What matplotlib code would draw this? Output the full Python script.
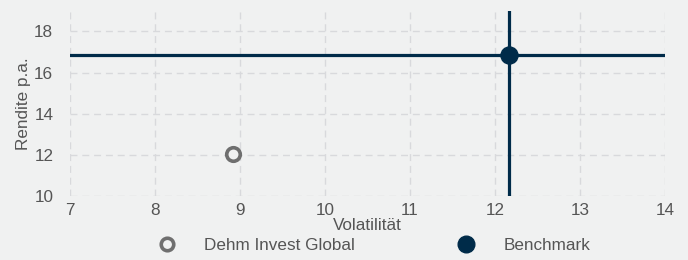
import matplotlib.pyplot as plt
from matplotlib.lines import Line2D

plt.rcParams['font.family'] = ['Liberation Sans', 'DejaVu Sans']

names = ['Dehm Invest Global', 'Benchmark']
vola = [8.92, 12.16]
rendite = [12.05, 16.88]

bg = '#f0f1f1'
navy = '#002b49'
grey = '#6f6f6f'
txt = '#555555'
fs = 12.3

fig = plt.figure(figsize=(6.88, 2.6), dpi=100, facecolor=bg)
ax = fig.add_axes([0.1017, 0.246, 0.8649, 0.712])
ax.set_facecolor(bg)

ax.set_xlim(7, 14)
ax.set_ylim(10, 19)
ax.set_xticks(range(7, 15))
ax.set_yticks(range(10, 19, 2))
ax.grid(True, color='#d8d9dc', linestyle=(0, (5, 3.5)), linewidth=1)
ax.set_axisbelow(True)
for s in ax.spines.values():
    s.set_visible(False)
ax.tick_params(length=0, labelsize=fs, colors=txt, pad=5)
ax.tick_params(axis='y', pad=12)

# benchmark crosshair
ax.axhline(rendite[1], color=navy, linewidth=2.3, zorder=2)
ax.axvline(vola[1], color=navy, linewidth=2.3, zorder=2)

ax.scatter([vola[0]], [rendite[0]], s=95, facecolor=bg, edgecolor=grey,
           linewidth=2.6, zorder=3, clip_on=False)
ax.scatter([vola[1]], [rendite[1]], s=150, color=navy, zorder=3, clip_on=False)

ax.set_xlabel('Volatilität', fontsize=fs, color=txt, labelpad=0)
ax.set_ylabel('Rendite p.a.', fontsize=fs, color=txt, labelpad=2)

handles = [
    Line2D([], [], linestyle='none', marker='o', markersize=9,
           markerfacecolor=bg, markeredgecolor=grey, markeredgewidth=2.6),
    Line2D([], [], linestyle='none', marker='o', markersize=12,
           markerfacecolor=navy, markeredgecolor=navy),
]
leg = fig.legend(handles, names, loc='center', bbox_to_anchor=(0.538, 0.054),
                 ncol=2, frameon=False, fontsize=fs, columnspacing=5.5,
                 handletextpad=1.2)
for t in leg.get_texts():
    t.set_color(txt)

fig.savefig('out.png', dpi=100, facecolor=bg)
